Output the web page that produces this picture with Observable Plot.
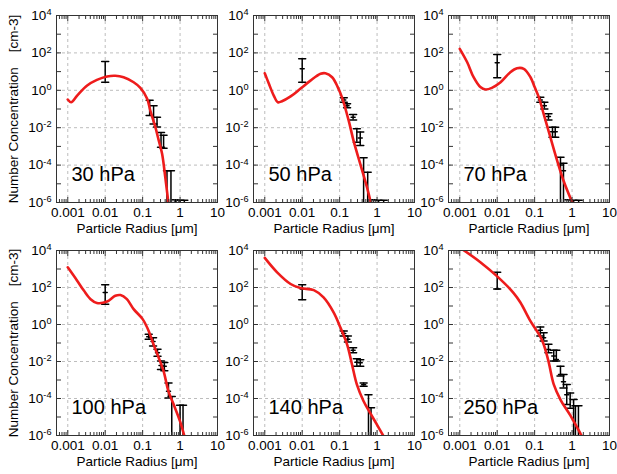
<!DOCTYPE html>
<html><head><meta charset="utf-8">
<script src="https://cdn.jsdelivr.net/npm/d3@7"></script>
<script src="https://cdn.jsdelivr.net/npm/@observablehq/plot@0.6"></script>
<style>
body{margin:0;background:#fff;}
#chart{position:relative;width:617px;height:474px;overflow:hidden;font-family:"Liberation Sans",Arial,Helvetica,sans-serif;}
#chart svg{position:absolute;}
.ytitle{position:absolute;font-size:13.5px;color:#000;white-space:pre;transform:translate(-50%,-50%) rotate(-90deg);line-height:1;}
</style></head><body><div id="chart"></div>
<script>
// ---- data: model curves [radius µm, concentration cm-3] ----
const curve30 = [[0.001,0.32],[0.00123,0.23],[0.00178,0.52],[0.0033,1.8],[0.006,3.6],[0.0112,5.5],[0.0186,6.0],[0.031,5.0],[0.0575,2.7],[0.087,1.35],[0.132,0.355],[0.16,0.083],[0.219,0.0107],[0.269,0.0021],[0.331,4.0e-4],[0.403,2.2e-5],[0.50,6.3e-7]];
const curve50 = [[0.001,8.1],[0.00129,2.24],[0.00174,0.52],[0.00224,0.23],[0.00288,0.26],[0.0049,0.47],[0.0089,1.2],[0.0166,3.3],[0.031,7.6],[0.0417,8.1],[0.063,5.0],[0.089,1.48],[0.115,0.43],[0.174,0.0245],[0.234,0.0021],[0.355,1.17e-4],[0.537,6.6e-6],[0.69,8.5e-7]];
const curve70 = [[0.001,166],[0.00158,31.6],[0.00234,5.0],[0.00355,1.48],[0.0049,1.1],[0.0072,1.35],[0.0123,2.7],[0.0224,9.3],[0.0339,15.1],[0.0513,14.1],[0.0776,5.0],[0.1,1.48],[0.129,0.43],[0.174,0.055],[0.263,0.0031],[0.398,1.78e-4],[0.589,1.5e-5],[1.0,1.05e-6]];
const curve100 = [[0.001,1230],[0.00178,234],[0.00269,68],[0.00407,23.4],[0.006,14.5],[0.0112,17.4],[0.0186,35.5],[0.0257,38.9],[0.038,23.4],[0.0575,6.8],[0.1,1.95],[0.145,0.45],[0.195,0.085],[0.269,0.0158],[0.363,0.003],[0.49,2.45e-4],[0.676,4.7e-5],[1.0,5.8e-6],[1.29,1.0e-6]];
const curve140 = [[0.001,3980],[0.00214,661],[0.0049,155],[0.0089,93],[0.0204,72],[0.0372,29],[0.069,4.5],[0.105,0.68],[0.158,0.085],[0.214,0.0069],[0.288,5.8e-4],[0.437,7.1e-5],[0.66,1.6e-5],[1.0,3.8e-6],[1.45,1.0e-6]];
const curve250 = [[0.001,14500],[0.00355,2340],[0.01,398],[0.0275,50],[0.0417,15.5],[0.0767,1.58],[0.142,0.22],[0.174,0.085],[0.234,0.0105],[0.324,5.8e-4],[0.5,8e-5],[0.89,1.25e-5],[1.66,1.32e-6],[1.9,7.9e-7]];

// ---- data: observations [radius, low, high, centre] ----
const bars30 = [[0.01,2.7,35,null],[0.154,0.045,0.29,null],[0.196,0.016,0.15,null],[0.242,0.011,0.036,null],[0.31,0.0009,0.0055,null],[0.363,0.0008,0.004,null],[0.447,1e-8,5e-5,null],[0.571,1e-8,5e-5,null],[0.75,1e-8,1.4e-6,null],[1.0,1e-8,1.3e-6,null],[1.3,1e-8,1.3e-6,null]];
const bars50 = [[0.01,2.7,48,14],[0.129,0.23,0.40,0.3],[0.158,0.115,0.19,0.15],[0.229,0.026,0.051,0.036],[0.288,0.00166,0.0087,null],[0.355,0.00112,0.0058,0.0028],[0.437,1e-8,2.45e-4,null],[0.562,1e-8,4.2e-5,null],[0.8,1e-8,1.4e-6,null],[1.1,1e-8,1.3e-6,null],[1.5,1e-8,1.3e-6,null]];
const bars70 = [[0.01,4.7,81,30],[0.142,0.23,0.43,0.3],[0.182,0.10,0.23,0.15],[0.234,0.026,0.055,0.04],[0.30,0.0031,0.0107,0.006],[0.355,0.0031,0.0107,0.006],[0.49,1e-8,2.6e-4,1e-4],[0.59,1e-8,1.26e-4,5e-5],[0.8,1e-8,1.4e-6,null],[1.1,1e-8,1.3e-6,null],[1.5,1e-8,1.3e-6,null]];
const bars100 = [[0.01,12.6,141,54],[0.145,0.16,0.30,0.22],[0.19,0.069,0.195,0.12],[0.25,0.0195,0.046,0.03],[0.31,0.0037,0.0105,0.006],[0.38,0.0032,0.0089,0.0055],[0.49,1.07e-4,6.9e-4,2.5e-4],[0.60,1e-8,1.3e-4,null],[1.0,1e-8,4.3e-5,null],[1.2,1e-8,4.3e-5,null]];
const bars140 = [[0.01,22,141,83],[0.129,0.24,0.45,0.33],[0.166,0.112,0.24,0.16],[0.229,0.0295,0.056,0.04],[0.288,0.0056,0.014,0.009],[0.355,0.0056,0.0126,0.0085],[0.437,4.6e-4,6.9e-4,5.6e-4],[0.59,1e-8,1.6e-4,null],[0.69,1e-8,3.2e-5,null]];
const bars250 = [[0.01,83,660,83],[0.142,0.24,0.74,0.49],[0.174,0.129,0.36,0.195],[0.234,0.0295,0.085,0.045],[0.324,0.0105,0.04,0.02],[0.38,0.0105,0.04,0.013],[0.49,0.00162,0.0056,0.002],[0.59,3.7e-4,0.002,8e-4],[0.72,4.7e-5,5.8e-4,1.6e-4],[0.89,3e-5,2e-4,null],[1.1,1e-8,8.7e-5,null],[1.23,1e-8,4e-5,null],[1.48,1e-8,4e-5,null]];

const panelLabels = ["30 hPa","50 hPa","70 hPa","100 hPa","140 hPa","250 hPa"];
const panelCurves = [curve30,curve50,curve70,curve100,curve140,curve250];
const panelBars = [bars30,bars50,bars70,bars100,bars140,bars250];

// ---- ticks / labels ----
const xMajor = [0.001,0.01,0.1,1,10];
const xLabels = ["0.001","0.01","0.1","1","10"];
const xGrid = [0.001,0.01,0.1,1];
const xMinor = [1e-4,1e-3,1e-2,1e-1,1].flatMap(d => [2,3,4,5,6,7,8,9].map(k => +(k*d).toPrecision(3))).filter(v => v >= 5e-4 && v < 10);
const yDecades = [1e-6,1e-5,1e-4,1e-3,1e-2,1e-1,1,10,100,1e3,1e4];
const yLabelled = [1e4,1e2,1,1e-2,1e-4,1e-6];
const yExp = ["4","2","0","-2","-4","-6"];
const yGrid = [1e2,1,1e-2,1e-4];
const xTitle = "Particle Radius [\u03bcm]";
const yTitle = "Number Concentration    [cm-3]";

// ---- layout ----
const cols = [{left:0,width:222,ml:56,mr:5},{left:222,width:195,ml:31,mr:3},{left:417,width:200,ml:31,mr:8}];
const rows = [{top:0,height:240,mt:15,mb:38},{top:235,height:239,mt:15,mb:39}];

const FONT = '"Liberation Sans", Arial, Helvetica, sans-serif';
const DARK = "#333";
const cap = {draw(ctx, l) { ctx.moveTo(0, 0); ctx.lineTo(0, -l); }};

const chart = document.getElementById("chart");
panelLabels.forEach((label, i) => {
  const C = cols[i % 3], R = rows[Math.floor(i / 3)];
  const curve = panelCurves[i].map(([r, n]) => ({r, n}));
  const bars = panelBars[i].map(([r, lo, hi, mid]) => ({r, lo, hi, mid}));
  const mids = bars.filter(d => d.mid != null);
  const tickOpt = {fill: "none", stroke: DARK, label: null};
  const barStyle = {stroke: "#000", strokeWidth: 1.5, clip: true};
  const svg = Plot.plot({
    width: C.width, height: R.height,
    marginLeft: C.ml, marginRight: C.mr, marginTop: R.mt, marginBottom: R.mb,
    style: {background: "transparent", overflow: "visible", fontFamily: FONT, fontSize: "13.5px", color: "#000"},
    x: {type: "log", domain: [5e-4, 10], axis: null},
    y: {type: "log", domain: [1e-6, 1e4], axis: null},
    marks: [
      Plot.gridX(xGrid, {stroke: "#bdbdbd", strokeOpacity: 1, strokeDasharray: "3,3"}),
      Plot.gridY(yGrid, {stroke: "#bdbdbd", strokeOpacity: 1, strokeDasharray: "3,3"}),
      Plot.ruleX(bars, {x: "r", y1: "lo", y2: "hi", ...barStyle}),
      Plot.vector(bars, {x: "r", y: "hi", length: 7, rotate: 90, anchor: "middle", shape: cap, fill: "none", ...barStyle}),
      Plot.vector(bars, {x: "r", y: "lo", length: 7, rotate: 90, anchor: "middle", shape: cap, fill: "none", ...barStyle}),
      Plot.vector(mids, {x: "r", y: "mid", length: 4, rotate: 90, anchor: "middle", shape: cap, fill: "none", ...barStyle}),
      Plot.line(curve, {x: "r", y: "n", stroke: "#ee1c1c", strokeWidth: 2.6, curve: "catmull-rom", clip: true}),
      Plot.frame({stroke: DARK}),
      Plot.axisX(xMajor, {anchor: "bottom", tickSize: -5, ...tickOpt}),
      Plot.axisX(xMajor, {anchor: "top", tickSize: -5, ...tickOpt}),
      Plot.axisX(xMinor, {anchor: "bottom", tickSize: -3, ...tickOpt}),
      Plot.axisX(xMinor, {anchor: "top", tickSize: -3, ...tickOpt}),
      Plot.axisY(yDecades, {anchor: "left", tickSize: -5, ...tickOpt}),
      Plot.axisY(yDecades, {anchor: "right", tickSize: -5, ...tickOpt}),
      Plot.axisX(xMajor, {anchor: "bottom", tickSize: 0, tickPadding: 5, stroke: "none", fill: "#000", label: null,
        tickFormat: d => xLabels[xMajor.indexOf(d)]}),
      Plot.axisY(yLabelled, {anchor: "left", tickSize: 0, tickPadding: 5, stroke: "none", fill: "#000", label: null,
        tickFormat: d => "10^" + yExp[yLabelled.indexOf(d)]}),
      Plot.text([xTitle], {frameAnchor: "bottom", dy: 30, text: d => d, fontSize: 13.5, fill: "#000"}),
      Plot.text([label], {frameAnchor: "bottom-left", dx: 15, dy: -21.5, text: d => d, textAnchor: "start", fontSize: 20, fill: "#000"})
    ]
  });
  svg.style.left = C.left + "px";
  svg.style.top = R.top + "px";
  d3.select(svg).selectAll('g[aria-label="y-axis tick label"] text').each(function() {
    const t = this.textContent;
    if (!t.includes("^")) return;
    const [b, e] = t.split("^");
    const s = d3.select(this);
    s.text(null);
    s.append("tspan").text(b);
    s.append("tspan").attr("dy", "-0.5em").attr("font-size", "0.68em").text(e);
  });
  chart.appendChild(svg);
  if (i % 3 === 0) {
    const div = document.createElement("div");
    div.className = "ytitle";
    div.textContent = yTitle;
    div.style.left = "14px";
    div.style.top = (R.top + R.mt + (R.height - R.mt - R.mb) / 2) + "px";
    chart.appendChild(div);
  }
});
</script>
</body></html>
